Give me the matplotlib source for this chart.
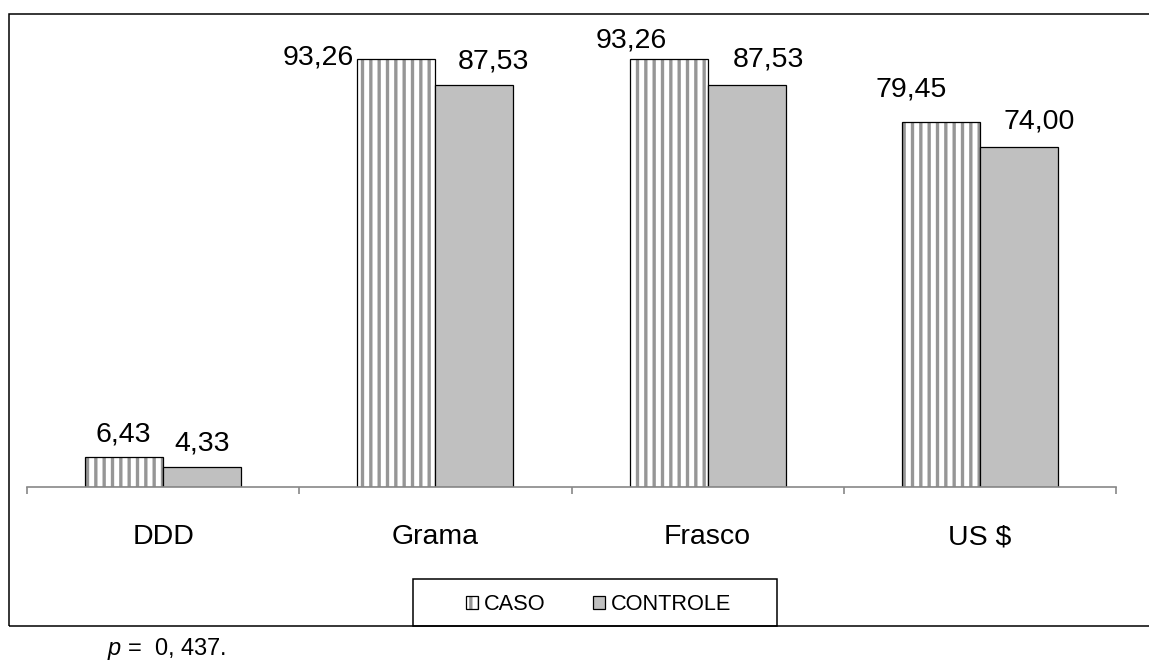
import matplotlib
matplotlib.use("Agg")
import matplotlib.pyplot as plt
from matplotlib.patches import Rectangle

plt.rcParams['font.family'] = ['Liberation Sans', 'DejaVu Sans']
plt.rcParams['mathtext.fontset'] = 'custom'
plt.rcParams['mathtext.it'] = 'Liberation Sans:italic'
plt.rcParams['mathtext.rm'] = 'Liberation Sans'
plt.rcParams['hatch.linewidth'] = 2.4

# data
categories = ['DDD', 'Grama', 'Frasco', 'US $']
caso = [6.43, 93.26, 93.26, 79.45]
controle = [4.33, 87.53, 87.53, 74.00]
series_names = ['CASO', 'CONTROLE']
p_text = r'$p$ =  0, 437.'

# label offsets from the bar top (pixels), as placed in the original
caso_off = [(-1, 16), (-78, -6), (-37, 11), (-30, 26)]
ctrl_off = [(0, 16), (19, 17), (22, 19), (20, 19)]

W, H = 1149, 662
fig = plt.figure(figsize=(W / 100, H / 100), dpi=100)
ax = fig.add_axes([27 / W, 1 - 486.7 / H, (1116 - 27) / W, (486.7 - 28) / H])

bw = 78 / 272.25
x = list(range(len(categories)))
xc = [i - bw / 2 for i in x]
xk = [i + bw / 2 for i in x]

# hatched fill then black outline for CASO
b_hatch = ax.bar(xc, caso, bw, color='white', edgecolor='#969696', hatch='||', linewidth=0)
b_edge = ax.bar(xc, caso, bw, color='none', edgecolor='black', linewidth=0.9)
b_ctrl = ax.bar(xk, controle, bw, color='#C0C0C0', edgecolor='black', linewidth=0.9)

def fmt(v):
    return f'{v:.2f}'.replace('.', ',')

for i in x:
    ax.annotate(fmt(caso[i]), (xc[i], caso[i]), xytext=caso_off[i], textcoords='offset pixels',
                ha='center', va='baseline', fontsize=20.5)
    ax.annotate(fmt(controle[i]), (xk[i], controle[i]), xytext=ctrl_off[i], textcoords='offset pixels',
                ha='center', va='baseline', fontsize=20.5)

ax.set_xlim(-0.5, len(categories) - 0.5)
ax.set_ylim(0, 100)
for s in ['top', 'left', 'right']:
    ax.spines[s].set_visible(False)
ax.spines['bottom'].set_color('#888888')
ax.spines['bottom'].set_linewidth(1.2)
ax.set_yticks([])
ax.set_xticks(x)
ax.set_xticklabels(categories, fontsize=20.5)
ax.set_xticks([i - 0.5 for i in range(len(categories) + 1)], minor=True)
ax.tick_params(axis='x', which='major', length=0, pad=27)
ax.tick_params(axis='x', which='minor', length=5, width=1.2, color='#888888', direction='out')

# outer chart border
fig.patches.append(Rectangle((9 / W, 1 - 626 / H), 1.05, (626 - 14) / H, transform=fig.transFigure,
                             fill=False, edgecolor='black', linewidth=1.1))

# legend with a separate frame
leg = fig.legend([(b_hatch, b_edge), b_ctrl], series_names, ncol=2, frameon=False,
                 loc='center', bbox_to_anchor=(598.5 / W, 1 - 605 / H),
                 fontsize=15.7, handlelength=0.55, handleheight=0.55,
                 handletextpad=0.27, columnspacing=2.16)
fig.patches.append(Rectangle((413 / W, 1 - 626 / H), (777 - 413) / W, (626 - 579) / H,
                             transform=fig.transFigure, fill=False, edgecolor='black', linewidth=1.1))

fig.text(107 / W, 1 - 655 / H, p_text, fontsize=17, ha='left', va='baseline')

fig.savefig('out.png', dpi=100)
